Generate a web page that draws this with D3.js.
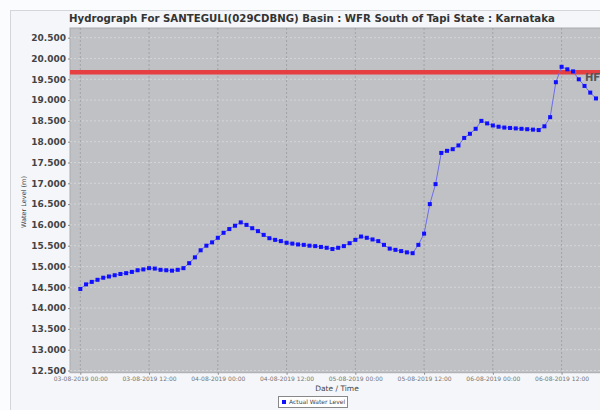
<!DOCTYPE html>
<html><head><meta charset="utf-8">
<script src="https://cdn.jsdelivr.net/npm/d3@7"></script>
<style>html,body{margin:0;padding:0;background:#fbfcfd;}svg{display:block;font-family:"DejaVu Sans",sans-serif;}</style>
</head><body><svg id="c" width="600" height="410"></svg>
<script>
const title = "Hydrograph For SANTEGULI(029CDBNG) Basin : WFR South of Tapi State : Karnataka";
const startTime = "2019-08-03T00:00:00Z";
const waterLevel = [
 14.46,14.57,14.63,14.68,14.73,14.76,14.79,14.82,14.84,14.87,14.91,14.93,14.96,14.95,14.92,14.91,14.90,14.92,14.96,15.08,15.22,15.39,15.50,15.58,
 15.69,15.81,15.90,15.98,16.06,16.00,15.92,15.85,15.76,15.68,15.64,15.61,15.57,15.55,15.53,15.52,15.50,15.49,15.47,15.45,15.42,15.45,15.49,15.56,
 15.64,15.72,15.69,15.65,15.61,15.52,15.43,15.40,15.37,15.34,15.32,15.52,15.79,16.50,16.98,17.73,17.78,17.82,17.91,18.09,18.19,18.31,18.50,18.44,
 18.39,18.36,18.34,18.33,18.32,18.31,18.30,18.29,18.28,18.37,18.59,19.43,19.80,19.74,19.69,19.50,19.34,19.18,19.04
];
const hfl = 19.67;
const yTicks = [12.5,13,13.5,14,14.5,15,15.5,16,16.5,17,17.5,18,18.5,19,19.5,20,20.5];
const xTickLabels = ["03-08-2019 00:00","03-08-2019 12:00","04-08-2019 00:00","04-08-2019 12:00","05-08-2019 00:00","05-08-2019 12:00","06-08-2019 00:00","06-08-2019 12:00"];
const seriesName = "Actual Water Level";

const HOUR = 3600000;
const t0 = new Date(startTime).getTime();
const data = waterLevel.map((v,i)=>({t:new Date(t0+i*HOUR), v}));
const tickDates = xTickLabels.map((s,i)=>new Date(t0+i*12*HOUR));

const svg = d3.select("#c");
const L=70, R=604, T=28, B=372.7;

// panel
svg.append("rect").attr("x",10.5).attr("y",10.5).attr("width",620).attr("height",420)
  .attr("fill","#f4f6f9").attr("stroke","#d3d7dc");

const x = d3.scaleUtc().domain([new Date(t0-1.8*HOUR), new Date(t0+91.4*HOUR)]).range([L,R]);
const y = d3.scaleLinear().domain([12.447,20.733]).range([B,T]);

svg.append("text").attr("x",312).attr("y",22).attr("text-anchor","middle")
  .attr("font-size",10.2).attr("font-weight","bold").attr("fill","#333").text(title);

svg.append("rect").attr("x",L).attr("y",T).attr("width",R-L).attr("height",B-T)
  .attr("fill","#bfc1c4").attr("stroke","#a9abae");

// grid
svg.append("g").selectAll("line").data(yTicks).join("line")
  .attr("x1",L).attr("x2",R).attr("y1",d=>y(d)).attr("y2",d=>y(d))
  .attr("stroke","#d9dadc").attr("stroke-width",0.8).attr("stroke-dasharray","2,2");
svg.append("g").selectAll("line").data(tickDates).join("line")
  .attr("x1",d=>x(d)).attr("x2",d=>x(d)).attr("y1",T).attr("y2",B)
  .attr("stroke","#9a9b9e").attr("stroke-width",0.8).attr("stroke-dasharray","2,2");

// y axis
const ya = svg.append("g").attr("transform",`translate(${L},0)`)
  .call(d3.axisLeft(y).tickValues(yTicks).tickFormat(d3.format(".3f")).tickSize(2).tickPadding(2));
ya.select(".domain").remove();
ya.selectAll("text").attr("font-size",9).attr("font-weight","bold").attr("fill","#444").attr("font-family","DejaVu Sans");
ya.selectAll(".tick line").attr("stroke","#888");

// x axis
const xa = svg.append("g").attr("transform",`translate(0,${B})`)
  .call(d3.axisBottom(x).tickValues(tickDates).tickFormat((d,i)=>xTickLabels[i]).tickSize(2).tickPadding(2));
xa.select(".domain").remove();
xa.selectAll("text").attr("font-size",6).attr("fill","#777").attr("font-family","DejaVu Sans");
xa.selectAll(".tick line").attr("stroke","#888");

svg.append("text").attr("x",337).attr("y",391).attr("text-anchor","middle")
  .attr("font-size",7.5).attr("fill","#444").text("Date / Time");
svg.append("text").attr("transform","translate(26,202) rotate(-90)").attr("text-anchor","middle")
  .attr("font-size",6.5).attr("fill","#444").text("Water Level (m)");

// HFL
svg.append("line").attr("x1",L).attr("x2",R).attr("y1",y(hfl)).attr("y2",y(hfl))
  .attr("stroke","#e8393a").attr("stroke-width",4.5).attr("opacity",0.95);
svg.append("text").attr("x",585).attr("y",80.5).attr("font-size",10).attr("font-weight","bold")
  .attr("fill","#555").text("HFL");

// series
svg.append("path").datum(data).attr("fill","none").attr("stroke","#6c6cf0").attr("stroke-width",1)
  .attr("d",d3.line().x(d=>x(d.t)).y(d=>y(d.v)));
svg.append("g").selectAll("rect").data(data).join("rect")
  .attr("x",d=>x(d.t)-2).attr("y",d=>y(d.v)-2).attr("width",4).attr("height",4).attr("fill","#1010ff");

// legend
const lg = svg.append("g");
lg.append("rect").attr("x",278.5).attr("y",396.5).attr("width",69).attr("height",11)
  .attr("fill","#fff").attr("stroke","#888");
lg.append("rect").attr("x",282).attr("y",400).attr("width",4).attr("height",4).attr("fill","#1010ff");
lg.append("text").attr("x",289).attr("y",404.3).attr("font-size",6).attr("fill","#444").text(seriesName);
</script></body></html>
